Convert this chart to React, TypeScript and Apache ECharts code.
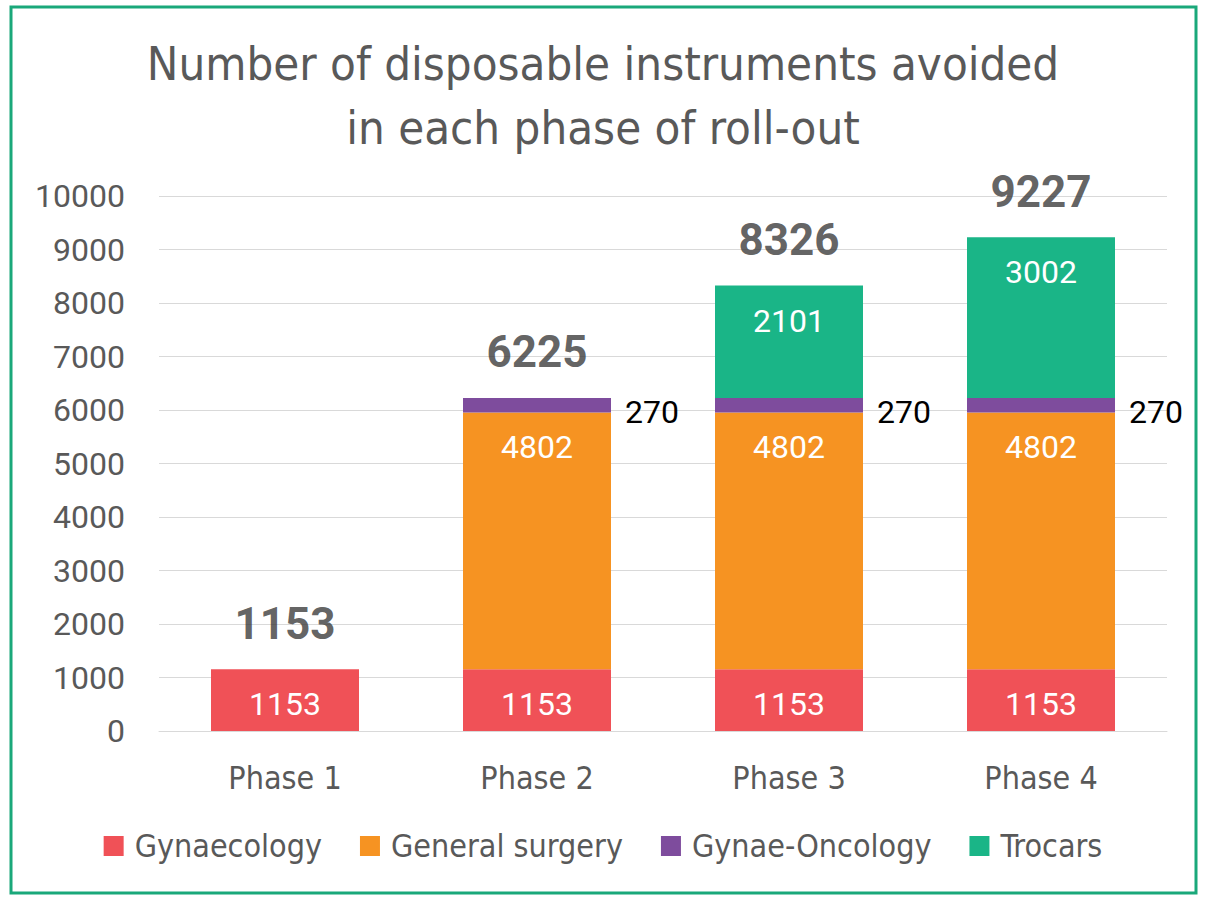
import React, { useEffect, useRef } from "react";
import * as echarts from "echarts";

const titleLines = ["Number of disposable instruments avoided", "in each phase of roll-out"];
const categories = ["Phase 1", "Phase 2", "Phase 3", "Phase 4"];
const gynaecology = [1153, 1153, 1153, 1153];
const generalSurgery = [null, 4802, 4802, 4802];
const gynaeOncology = [null, 270, 270, 270];
const trocars = [null, null, 2101, 3002];
const seriesNames = ["Gynaecology", "General surgery", "Gynae-Oncology", "Trocars"];
const colors = ["#F05157", "#F69322", "#7E4C9D", "#1AB587"];
const yTicks = { min: 0, max: 10000, interval: 1000 };

const totals = categories.map((_, i) =>
  [gynaecology, generalSurgery, gynaeOncology, trocars].reduce(
    (s, arr) => s + ((arr[i] as number) || 0),
    0
  )
);

const NARROW = '"DejaVu Sans Condensed", "Noto Sans", sans-serif';
const ROBOTO = 'Roboto, "Noto Sans", sans-serif';

export default function App() {
  const ref = useRef<HTMLDivElement>(null);
  useEffect(() => {
    if (!ref.current) return;
    const chart = echarts.init(ref.current, null, { renderer: "svg" });
    const inLabel = {
      show: true,
      position: "insideTop" as const,
      distance: 19,
      color: "#ffffff",
      fontSize: 32,
      fontFamily: ROBOTO,
    };
    const mk = (name: string, data: (number | null)[], color: string, label: any) => ({
      name,
      type: "bar",
      stack: "total",
      barWidth: 148,
      data,
      itemStyle: { color },
      label,
    });
    chart.setOption({
      animation: false,
      backgroundColor: "#ffffff",
      title: {
        text: titleLines.join("\n"),
        left: "center",
        top: 26,
        textStyle: {
          fontFamily: NARROW,
          fontSize: 47,
          fontWeight: "normal",
          color: "#595959",
          lineHeight: 64,
        },
      },
      graphic: [
        {
          type: "rect",
          shape: { x: 11, y: 7, width: 1185, height: 886 },
          style: { fill: "none", stroke: "#1AA87A", lineWidth: 3 },
          silent: true,
        },
      ],
      legend: {
        data: seriesNames,
        bottom: 33,
        left: "center",
        itemWidth: 20,
        itemHeight: 20,
        itemGap: 38,
        icon: "rect",
        textStyle: {
          fontFamily: NARROW,
          fontSize: 32,
          color: "#595959",
          padding: [0, 0, 0, 6],
        },
      },
      grid: { left: 159, right: 39, top: 196, bottom: 169, containLabel: false },
      xAxis: {
        type: "category",
        data: categories,
        axisLine: { show: true, lineStyle: { color: "#d9d9d9" } },
        axisTick: { show: false },
        axisLabel: {
          margin: 31,
          fontFamily: NARROW,
          fontSize: 32,
          color: "#595959",
        },
      },
      yAxis: {
        type: "value",
        min: yTicks.min,
        max: yTicks.max,
        interval: yTicks.interval,
        axisLine: { show: false },
        axisTick: { show: false },
        splitLine: { lineStyle: { color: "#d9d9d9" } },
        axisLabel: {
          margin: 34,
          fontFamily: ROBOTO,
          fontSize: 32,
          color: "#595959",
          formatter: (v: number) => String(v),
        },
      },
      series: [
        mk(seriesNames[0], gynaecology, colors[0], inLabel),
        mk(seriesNames[1], generalSurgery, colors[1], inLabel),
        mk(seriesNames[2], gynaeOncology, colors[2], {
          show: true,
          position: "right",
          distance: 14,
          offset: [0, 7],
          color: "#000000",
          fontSize: 32,
          fontFamily: ROBOTO,
        }),
        mk(seriesNames[3], trocars, colors[3], inLabel),
        {
          name: "Total",
          type: "scatter",
          data: totals,
          symbolSize: 1,
          itemStyle: { color: "rgba(0,0,0,0)" },
          label: {
            show: true,
            position: "top",
            distance: 23,
            color: "#3a3a3a",
            fontSize: 44,
            fontWeight: "bold",
            fontFamily: ROBOTO,
          },
          z: 5,
        },
      ],
    });
    return () => chart.dispose();
  }, []);
  return (
    <div
      ref={ref}
      style={{ position: "absolute", left: 0, top: 0, width: 1206, height: 900 }}
    />
  );
}
